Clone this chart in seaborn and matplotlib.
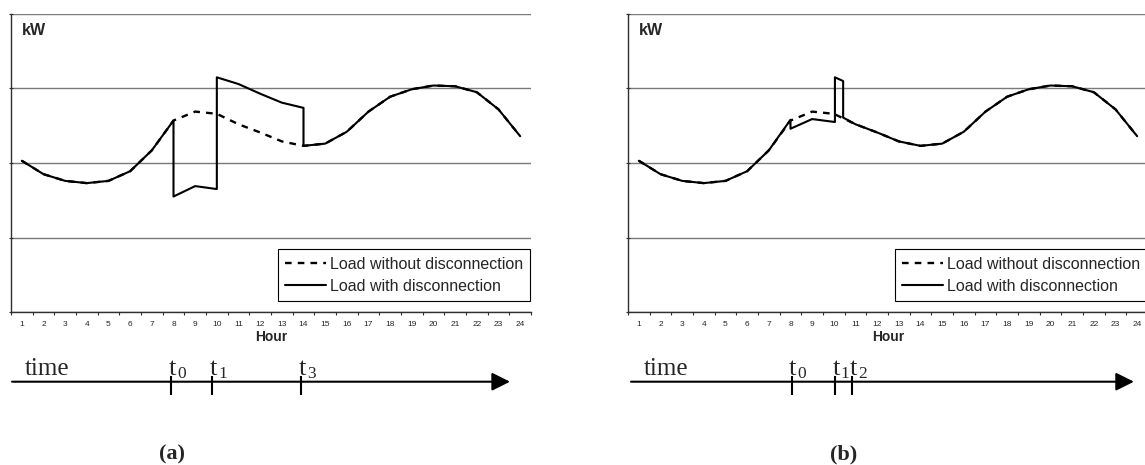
import numpy as np
import matplotlib
matplotlib.use("Agg")
import matplotlib.pyplot as plt
import seaborn as sns

# hourly load (kW axis has no labels, grid step = 1)
hours = list(range(1, 25))
load_without = [2.03, 1.85, 1.76, 1.73, 1.76, 1.89, 2.17, 2.57, 2.69, 2.66, 2.52, 2.41,
                2.29, 2.23, 2.26, 2.42, 2.69, 2.89, 2.99, 3.04, 3.03, 2.95, 2.72, 2.36]

# (a) disconnection between t0 and t1, recovery peak until t3
hours_a = [1, 2, 3, 4, 5, 6, 7, 8, 8, 9, 10, 10, 11, 12, 13, 14, 14,
           15, 16, 17, 18, 19, 20, 21, 22, 23, 24]
load_a = [2.03, 1.85, 1.76, 1.73, 1.76, 1.89, 2.17, 2.57, 1.55, 1.69, 1.65, 3.15, 3.06,
          2.93, 2.81, 2.74, 2.23, 2.26, 2.42, 2.69, 2.89, 2.99, 3.04, 3.03, 2.95, 2.72, 2.36]

# (b) short disconnection, short peak between t1 and t2
hours_b = [1, 2, 3, 4, 5, 6, 7, 8, 8, 9, 10.05, 10.05, 10.43, 10.43, 11, 12, 13, 14,
           15, 16, 17, 18, 19, 20, 21, 22, 23, 24]
load_b = [2.03, 1.85, 1.76, 1.73, 1.76, 1.89, 2.17, 2.58, 2.46, 2.59, 2.55, 3.15, 3.10,
          2.61, 2.52, 2.41, 2.29, 2.23, 2.26, 2.42, 2.69, 2.89, 2.99, 3.04, 3.03, 2.95,
          2.72, 2.36]

events_a = [7.9, 9.8, 13.9]
event_names_a = ["0", "1", "3"]
events_b = [8.05, 10.05, 10.85]
event_names_b = ["0", "1", "2"]

sns.set_style("white")
plt.rcParams['font.family'] = ['Liberation Sans', 'DejaVu Sans']
serif = ['Liberation Serif', 'DejaVu Serif']

W, H = 1145, 465
fig = plt.figure(figsize=(W / 100, H / 100), dpi=100)


def px_axes(x0, y0, x1, y1):
    return fig.add_axes([x0 / W, 1 - y1 / H, (x1 - x0) / W, (y1 - y0) / H])


def draw_chart(ax, x_with, y_with):
    sns.lineplot(x=hours, y=load_without, ax=ax, color='black', linewidth=1.7,
                 linestyle=(0, (2.8, 2.6)), estimator=None, sort=False,
                 label='Load without disconnection', legend=False)
    sns.lineplot(x=x_with, y=y_with, ax=ax, color='black', linewidth=1.5,
                 estimator=None, sort=False,
                 label='Load with disconnection', legend=False)

    ax.set_xlim(0.5, 24.5)
    ax.set_ylim(0, 4)
    ax.set_xticks(hours)
    ax.set_xticklabels([str(h) for h in hours])
    ax.set_xticks(np.arange(0.5, 25, 1), minor=True)
    ax.set_yticks([0, 1, 2, 3, 4])
    ax.set_yticklabels([])
    ax.tick_params(axis='x', which='major', length=0, pad=6.8, labelsize=6)
    ax.tick_params(axis='x', which='minor', length=2.2, width=0.8, direction='out',
                   color='#303030', bottom=True)
    ax.tick_params(axis='y', length=3, width=0.8, direction='inout', color='#303030',
                   left=True)
    ax.yaxis.grid(True, color='#7a7a7a', linewidth=1.0)
    ax.set_axisbelow(True)
    for side in ['top', 'right']:
        ax.spines[side].set_visible(False)
    for side in ['left', 'bottom']:
        ax.spines[side].set_color('#303030')
        ax.spines[side].set_linewidth(1.0)
    ax.set_xlabel('Hour', fontweight='bold', fontsize=10, labelpad=1)
    ax.set_ylabel('')
    ax.text(0.021, 0.943, 'kW', transform=ax.transAxes, fontweight='bold',
            fontsize=11.5, ha='left', va='center')

    leg = ax.legend(loc='lower right', bbox_to_anchor=(0.998, 0.037), frameon=True,
                    fancybox=False, edgecolor='black', framealpha=1, fontsize=11.5,
                    borderpad=0.45, handlelength=2.6, handletextpad=0.2,
                    labelspacing=0.45, borderaxespad=0)
    leg.get_frame().set_linewidth(0.8)


def draw_timeline(ax, x_start, x_tip, events, names, tag, tag_x):
    ax.set_xlim(0.5, 24.5)
    ax.set_ylim(125, 0)
    ax.axis('off')
    ax.annotate('', xy=(x_tip, 41.7), xytext=(x_start, 41.7),
                arrowprops=dict(arrowstyle='-|>,head_length=1.1,head_width=0.55',
                                lw=1.5, color='black', mutation_scale=10,
                                shrinkA=0, shrinkB=0))
    ax.vlines(events, 36, 55, color='black', linewidth=1.5)
    ax.text(x_start + 0.6, 35, 'time', fontsize=18, family=serif, va='baseline',
            ha='left')
    for x, n in zip(events, names):
        ax.text(x - 0.12, 35, 't', fontsize=19, family=serif, va='baseline', ha='left')
        ax.annotate(n, xy=(x - 0.12, 35), xytext=(5.9, -2.3),
                    textcoords='offset points', fontsize=12.5, family=serif,
                    va='baseline', ha='left')
    ax.text(tag_x, 114, tag, fontsize=16, fontweight='bold', family=serif,
            ha='center', va='center')


ax_a = px_axes(11, 14, 531, 312)
draw_chart(ax_a, hours_a, load_a)
ax_b = px_axes(628, 14, 1148, 312)
draw_chart(ax_b, hours_b, load_b)

tl_a = px_axes(11, 340, 531, 465)
draw_timeline(tl_a, 0.55, 23.53, events_a, event_names_a, '(a)', 7.95)
tl_b = px_axes(628, 340, 1148, 465)
draw_timeline(tl_b, 0.64, 23.85, events_b, event_names_b, '(b)', 10.45)

fig.savefig('out.png', dpi=100)
